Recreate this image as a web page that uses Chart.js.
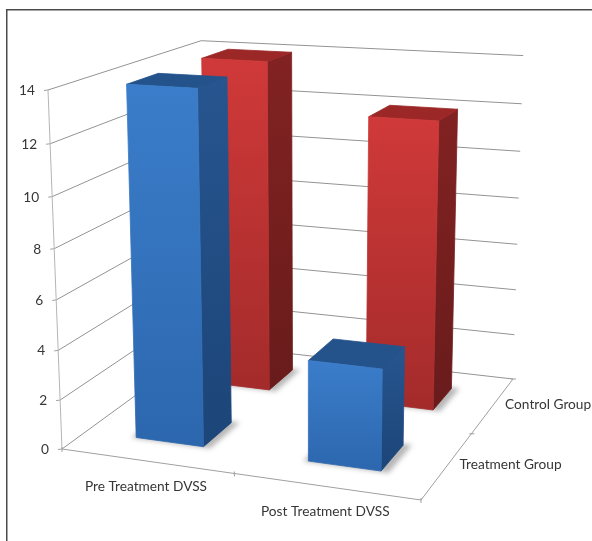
<!DOCTYPE html>
<html>
<head>
<meta charset="utf-8">
<title>DVSS by group</title>
<script src="https://cdn.jsdelivr.net/npm/chart.js@4/dist/chart.umd.js"></script>
<style>
  html, body { margin: 0; padding: 0; background: #fff; }
  canvas { display: block; }
</style>
</head>
<body>
<canvas id="chart" width="592" height="541"></canvas>
<script>
const categories = ["Pre Treatment DVSS", "Post Treatment DVSS"];
const groups = ["Treatment Group", "Control Group"];
const treatmentGroup = [14, 4];
const controlGroup = [14, 12];

const blue = { front: ["#3b7dca", "#2c67ae"], side: ["#27558f", "#1c4578"], top: "#24538c" };
const red = { front: ["#d03939", "#a42b2b"], side: ["#822222", "#691b1b"], top: "#9c2727" };

// floor corners and the top of the front-left edge of the plot box, in canvas pixels
const floorFL = { x: 62, y: 449 };
const floorFR = { x: 421, y: 500 };
const floorBR = { x: 513, y: 379 };
const floorBL = { x: 206, y: 344 };
const wallTopFL = { x: 48, y: 90 };
const heightFalloff = -0.0535; // how fast the box grows toward the camera going up

// perspective matrix for the box, u = along categories, v = depth, w = height (all 0..1)
function buildProjection() {
  const sx = floorFL.x - floorFR.x + floorBR.x - floorBL.x;
  const sy = floorFL.y - floorFR.y + floorBR.y - floorBL.y;
  const dx1 = floorFR.x - floorBR.x, dx2 = floorBL.x - floorBR.x;
  const dy1 = floorFR.y - floorBR.y, dy2 = floorBL.y - floorBR.y;
  const det = dx1 * dy2 - dx2 * dy1;
  const g = (sx * dy2 - dx2 * sy) / det;
  const h = (dx1 * sy - sx * dy1) / det;
  const axis = (p, q, k) => ({ x: q.x - p.x + k * q.x, y: q.y - p.y + k * q.y });
  const au = axis(floorFL, floorFR, g);
  const av = axis(floorFL, floorBL, h);
  const aw = axis(floorFL, wallTopFL, heightFalloff);
  return (u, v, w) => {
    const d = 1 + g * u + h * v + heightFalloff * w;
    return {
      x: (floorFL.x + au.x * u + av.x * v + aw.x * w) / d,
      y: (floorFL.y + au.y * u + av.y * v + aw.y * w) / d,
    };
  };
}
const project = buildProjection();

function polygon(ctx, pts) {
  ctx.beginPath();
  pts.forEach((p, i) => (i ? ctx.lineTo(p.x, p.y) : ctx.moveTo(p.x, p.y)));
  ctx.closePath();
}

function line(ctx, a, b, color) {
  ctx.strokeStyle = color;
  ctx.lineWidth = 1;
  ctx.beginPath();
  ctx.moveTo(a.x, a.y);
  ctx.lineTo(b.x, b.y);
  ctx.stroke();
}

function faceGradient(ctx, pts, stops) {
  const topY = Math.min(...pts.map((p) => p.y));
  const bottomY = Math.max(...pts.map((p) => p.y));
  const grad = ctx.createLinearGradient(0, topY, 0, bottomY);
  grad.addColorStop(0, stops[0]);
  grad.addColorStop(1, stops[1]);
  return grad;
}

// fill and stroke with the same paint so neighbouring faces leave no hairline
function paintFace(ctx, pts, paint) {
  ctx.fillStyle = paint;
  ctx.strokeStyle = paint;
  ctx.lineWidth = 0.8;
  polygon(ctx, pts);
  ctx.fill();
  ctx.stroke();
}

function drawBox(ctx, u0, u1, v0, v1, w, colors) {
  // soft contact shadow on the floor
  ctx.save();
  ctx.filter = "blur(2.5px)";
  ctx.fillStyle = "rgba(95,95,95,0.45)";
  polygon(ctx, [project(u0 - 0.012, v0 - 0.006, 0), project(u1 + 0.022, v0 - 0.006, 0), project(u1 + 0.022, v1 + 0.01, 0), project(u0 - 0.012, v1 + 0.01, 0)]);
  ctx.fill();
  ctx.restore();

  const front = [project(u0, v0, w), project(u1, v0, w), project(u1, v0, 0), project(u0, v0, 0)];
  const side = [project(u1, v0, w), project(u1, v1, w), project(u1, v1, 0), project(u1, v0, 0)];
  const top = [project(u0, v0, w), project(u1, v0, w), project(u1, v1, w), project(u0, v1, w)];

  paintFace(ctx, side, faceGradient(ctx, side, colors.side));
  paintFace(ctx, top, colors.top);
  paintFace(ctx, front, faceGradient(ctx, front, colors.front));
}

const box3d = {
  id: "box3d",
  beforeDatasetsDraw(chart) {
    const { ctx, chartArea: area, scales } = chart;
    const toU = (px) => (px - area.left) / area.width;
    const toW = (val) => (val - scales.y.min) / (scales.y.max - scales.y.min);
    const gridColor = "#939393";
    const axisColor = "#a0a0a0";
    const textColor = "#363636";

    ctx.save();
    // top and left rule of the figure frame
    ctx.fillStyle = "#4a4a4a";
    ctx.fillRect(6, 9, 586, 1.5);
    ctx.fillRect(6, 9, 1.5, 532);

    ctx.font = "13.7px Lato";
    ctx.fillStyle = textColor;
    ctx.textBaseline = "middle";

    // side wall, back wall and value labels
    scales.y.ticks.forEach((tick) => {
      const w = toW(tick.value);
      const fl = project(0, 0, w), bl = project(0, 1, w), br = project(1, 1, w);
      line(ctx, fl, bl, gridColor);
      line(ctx, bl, br, gridColor);
      line(ctx, { x: fl.x - 4, y: fl.y + 0.5 }, fl, axisColor);
      ctx.textAlign = "right";
      ctx.fillText(tick.label, fl.x - 13, fl.y + 0.5);
    });

    // box edges
    line(ctx, project(0, 0, 0), project(0, 0, 1), "#b5b5b5");
    line(ctx, project(0, 0, 0), project(1, 0, 0), axisColor);
    line(ctx, project(1, 0, 0), project(1, 1, 0), axisColor);

    // axis ticks on the floor edges
    [0, 0.5, 1].forEach((u) => {
      const p = project(u, 0, 0);
      line(ctx, { x: p.x, y: p.y - 2 }, { x: p.x, y: p.y + 3 }, axisColor);
    });
    [0.5, 1].forEach((v) => {
      const p = project(1, v, 0);
      line(ctx, { x: p.x - 2, y: p.y }, { x: p.x + 3, y: p.y }, axisColor);
    });

    // category labels under the front edge
    ctx.textAlign = "center";
    categories.forEach((label, i) => {
      const p = project(toU(scales.x.getPixelForValue(i)), 0, 0);
      ctx.fillText(label, p.x - 0.5, p.y + 25.5);
    });

    // group labels beside the right edge
    ctx.textAlign = "left";
    groups.forEach((label, i) => {
      const p = project(1, toU(scales.depth.getPixelForValue(i)), 0);
      ctx.fillText(label, p.x + 12, p.y - 1);
    });

    // bars, back row first so the front row overlaps it
    const depthStep = 0.4 * (scales.depth.getPixelForValue(1) - scales.depth.getPixelForValue(0));
    [1, 0].forEach((row) => {
      const meta = chart.getDatasetMeta(row);
      const colors = row === 0 ? blue : red;
      const vc = scales.depth.getPixelForValue(row);
      meta.data.forEach((bar, i) => {
        const values = row === 0 ? treatmentGroup : controlGroup;
        drawBox(
          ctx,
          toU(bar.x - bar.width / 2),
          toU(bar.x + bar.width / 2),
          toU(vc - depthStep / 2),
          toU(vc + depthStep / 2),
          toW(values[i]),
          colors
        );
      });
    });
    ctx.restore();
    return false; // the flat bars are replaced by the boxes above
  },
};

new Chart(document.getElementById("chart"), {
  type: "bar",
  data: {
    labels: categories,
    datasets: [
      { label: groups[0], data: treatmentGroup, backgroundColor: blue.front[0], grouped: false, barPercentage: 0.4, categoryPercentage: 1 },
      { label: groups[1], data: controlGroup, backgroundColor: red.front[0], grouped: false, barPercentage: 0.4, categoryPercentage: 1 },
    ],
  },
  options: {
    responsive: false,
    animation: false,
    plugins: { legend: { display: false }, tooltip: { enabled: false } },
    scales: {
      x: { display: false },
      depth: { type: "category", axis: "x", labels: groups, offset: true, display: false },
      y: { display: false, min: 0, max: 14, ticks: { stepSize: 2 } },
    },
  },
  plugins: [box3d],
});
</script>
</body>
</html>
